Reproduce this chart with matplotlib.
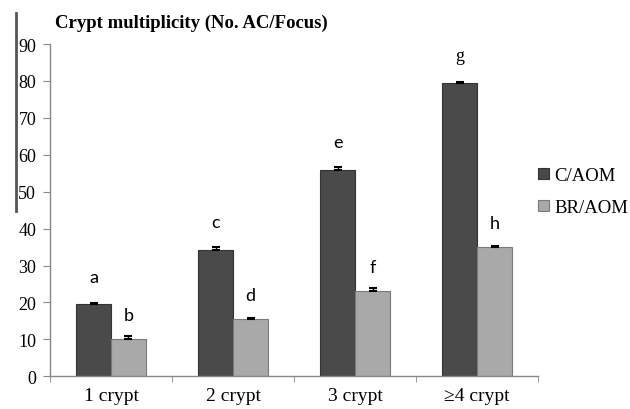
import matplotlib.pyplot as plt
import numpy as np

# datos
categorias = ['1 crypt', '2 crypt', '3 crypt', '\u22654 crypt']
c_aom = [19.5, 34.2, 56.0, 79.5]
c_aom_err = [0.4, 0.7, 0.6, 0.3]
br_aom = [10.2, 15.4, 23.2, 35.0]
br_aom_err = [0.6, 0.4, 0.8, 0.3]
letras_c = ['a', 'c', 'e', 'g']
letras_br = ['b', 'd', 'f', 'h']

serif = ['Liberation Serif', 'DejaVu Serif']
sans = ['Lato', 'DejaVu Sans']

fig = plt.figure(figsize=(6.3, 4.1), dpi=100)
ax = fig.add_axes([0.0794, 0.08, 0.775, 0.81])

x = np.arange(len(categorias))
w = 0.285
ax.bar(x - w / 2, c_aom, w, color='#4a4a4a', edgecolor='#333333', linewidth=0.8,
       label='C/AOM')
ax.bar(x + w / 2, br_aom, w, color='#a9a9a9', edgecolor='#7a7a7a', linewidth=0.8,
       label='BR/AOM')
ax.errorbar(x - w / 2, c_aom, yerr=[np.zeros(4), c_aom_err], fmt='none', ecolor='black',
            elinewidth=1, capsize=3, capthick=1.5)
ax.errorbar(x + w / 2, br_aom, yerr=[np.zeros(4), br_aom_err], fmt='none', ecolor='black',
            elinewidth=1, capsize=3, capthick=1.5)

# letras de significancia
for i in range(len(categorias)):
    fam = serif if letras_c[i] == 'g' else sans
    ax.text(x[i] - w / 2, c_aom[i] + 7.5, letras_c[i], ha='center', va='center',
            fontsize=13, family=fam)
    ax.text(x[i] + w / 2, br_aom[i] + 6.5, letras_br[i], ha='center', va='center',
            fontsize=13, family=sans)

ax.set_xlim(-0.5, 3.5)
ax.set_ylim(0, 90)
ax.set_yticks(range(0, 91, 10))
ax.set_xticks(x)
ax.set_xticklabels(categorias, family=serif, fontsize=14)
ax.set_xticks(np.arange(-0.5, 4, 1), minor=True)
ax.tick_params(axis='x', which='major', length=0, pad=8)
ax.tick_params(axis='x', which='minor', length=4, color='#888888')
ax.tick_params(axis='y', length=5, color='#888888', pad=5, labelsize=13)
for t in ax.get_yticklabels():
    t.set_family(serif)

for s in ['top', 'right']:
    ax.spines[s].set_visible(False)
for s in ['left', 'bottom']:
    ax.spines[s].set_color('#888888')
    ax.spines[s].set_linewidth(1)

fig.text(0.087, 0.944, 'Crypt multiplicity (No. AC/Focus)', fontsize=13.5,
         fontweight='bold', family=serif, va='center')

# linea vertical del borde izquierdo
fig.add_artist(plt.Line2D([0.026, 0.026], [0.965, 0.483], color='#555555', linewidth=2))

ax.legend(loc='center left', bbox_to_anchor=(1.0, 0.555), frameon=False,
          prop={'family': serif, 'size': 13.5}, handlelength=0.55, handleheight=0.55,
          handletextpad=0.3, labelspacing=0.8, borderaxespad=0, borderpad=0)

fig.savefig('out.png', dpi=100)
